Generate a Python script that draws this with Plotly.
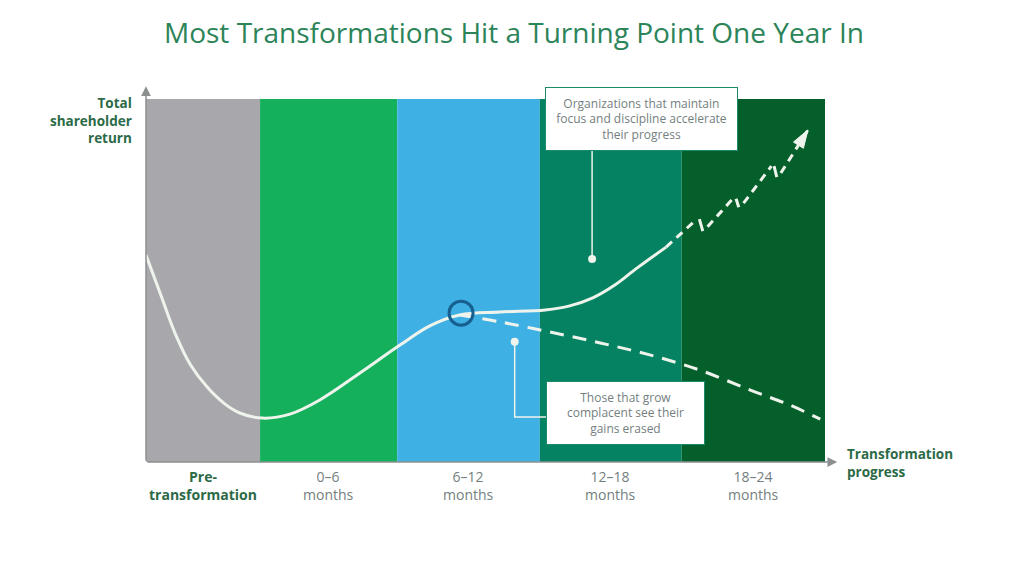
import plotly.graph_objects as go

# ---- data ----
band_edges = [0, 16.8, 37.0, 58.0, 78.9, 100]
band_colors = ["#a8a7ab", "#14b05c", "#3eb0e4", "#058262", "#045f2b"]
tick_top = ["Pre-", "0–6", "6–12", "12–18", "18–24"]
tick_bottom = ["transformation", "months", "months", "months", "months"]

solid_x = [0, 2.06, 4.27, 6.48, 8.98, 11.6, 13.8, 17.1, 21.2, 25.6, 31.5, 37.4, 41.8, 46.2, 52.1, 58.8, 62.4, 65.8, 69.1, 72.3, 76.6]
solid_y = [57.0, 46.6, 35.5, 27.0, 20.7, 16.0, 13.5, 12.1, 13.2, 17.1, 24.5, 32.2, 37.5, 40.5, 41.3, 41.9, 43.0, 45.2, 48.8, 53.4, 59.2]

# accelerating path: dashed runs (None separates runs) and the short "jolts" between them
up_x = [76.6, 81.0, None, 82.7, 86.5, None, 88.0, 92.1, None, 93.5, 97.5]
up_y = [59.2, 66.7, None, 64.8, 72.7, None, 71.3, 81.5, None, 79.6, 91.5]
jolt_x = [81.5, 82.0, None, 86.9, 87.3, None, 92.5, 92.9]
jolt_y = [66.9, 63.6, None, 72.5, 70.2, None, 81.5, 78.5]

down_x = [46.2, 52.1, 59.5, 66.9, 74.2, 81.6, 89.0, 94.8, 99.3]
down_y = [40.5, 38.6, 35.8, 32.8, 29.5, 25.3, 19.8, 15.7, 11.8]

turn_x, turn_y = [46.4], [41.0]

FONT = "Open Sans"
LINE = "#eef4ec"
DKGREEN = "#2c6a47"
GRAY_TXT = "#748080"

fig = go.Figure()

shapes = []
for i, c in enumerate(band_colors):
    shapes.append(dict(type="rect", xref="x", yref="y", x0=band_edges[i], x1=band_edges[i + 1],
                       y0=0, y1=100, fillcolor=c, line=dict(width=0), layer="below"))

# pointer lines
fig.add_trace(go.Scatter(x=[65.7, 65.7], y=[85.7, 55.9], mode="lines",
                         line=dict(color=LINE, width=1.5), hoverinfo="skip"))
fig.add_trace(go.Scatter(x=[65.7], y=[55.9], mode="markers",
                         marker=dict(color=LINE, size=8), hoverinfo="skip"))
fig.add_trace(go.Scatter(x=[54.3, 54.3, 58.9], y=[33.1, 12.4, 12.4], mode="lines",
                         line=dict(color=LINE, width=1.5), hoverinfo="skip"))
fig.add_trace(go.Scatter(x=[54.3], y=[33.1], mode="markers",
                         marker=dict(color=LINE, size=8), hoverinfo="skip"))

fig.add_trace(go.Scatter(x=solid_x, y=solid_y, mode="lines",
                         line=dict(color=LINE, width=3, shape="spline", smoothing=1.0), hoverinfo="skip"))
fig.add_trace(go.Scatter(x=down_x, y=down_y, mode="lines",
                         line=dict(color=LINE, width=3, dash="14px,9px", shape="spline"), hoverinfo="skip"))
fig.add_trace(go.Scatter(x=up_x, y=up_y, mode="lines", connectgaps=False,
                         line=dict(color=LINE, width=3, dash="8px,6px"), hoverinfo="skip"))
fig.add_trace(go.Scatter(x=jolt_x, y=jolt_y, mode="lines", connectgaps=False,
                         line=dict(color=LINE, width=3), hoverinfo="skip"))
fig.add_trace(go.Scatter(x=up_x[-2:], y=up_y[-2:], mode="markers",
                         marker=dict(symbol="arrow", size=[0, 19], angleref="previous", color=LINE,
                                     opacity=1, line=dict(width=1, color=LINE)), hoverinfo="skip"))
fig.add_trace(go.Scatter(x=turn_x, y=turn_y, mode="markers",
                         marker=dict(symbol="circle-open", size=24, color="#175f8f", line=dict(color="#175f8f", width=3)),
                         hoverinfo="skip"))

annotations = []
# axis arrows
annotations.append(dict(x=0, y=103.5, ax=0, ay=0, xref="x", yref="y", axref="x", ayref="y",
                        showarrow=True, arrowhead=2, arrowsize=1.3, arrowwidth=1.5, arrowcolor="#8c9090", text=""))
annotations.append(dict(x=101.8, y=0, ax=0, ay=0, xref="x", yref="y", axref="x", ayref="y",
                        showarrow=True, arrowhead=2, arrowsize=1.3, arrowwidth=1.5, arrowcolor="#8c9090", text=""))

# tick labels
for i in range(5):
    cx = (band_edges[i] + band_edges[i + 1]) / 2
    if i == 0:
        txt = f"<b>{tick_top[i]}<br>{tick_bottom[i]}</b>"
        col = DKGREEN
    else:
        txt = f"{tick_top[i]}<br>{tick_bottom[i]}"
        col = GRAY_TXT
    annotations.append(dict(x=cx, y=0, xref="x", yref="y", yshift=-3, yanchor="top", showarrow=False,
                            text=txt, font=dict(family=FONT, size=14, color=col), align="center"))

# axis titles
annotations.append(dict(x=134, y=576 - 121, xref="paper", yref="paper", showarrow=False,
                        text="<b>Total<br>shareholder<br>return</b>", align="right", xanchor="right", yanchor="middle",
                        font=dict(family=FONT, size=13.5, color=DKGREEN)))
annotations.append(dict(x=845, y=576 - 463, showarrow=False, xref="paper", yref="paper",
                        text="<b>Transformation<br>progress</b>", align="left", xanchor="left", yanchor="middle",
                        font=dict(family=FONT, size=13.5, color=DKGREEN)))

# callout boxes
annotations.append(dict(x=73.0, y=94.5, xref="x", yref="y", showarrow=False,
                        text="Organizations that maintain<br>focus and discipline accelerate<br>their progress",
                        bgcolor="white", bordercolor="#1d8a6a", borderwidth=1, borderpad=4,
                        width=183, height=54, align="center",
                        font=dict(family=FONT, size=12, color=GRAY_TXT)))
annotations.append(dict(x=70.6, y=13.5, xref="x", yref="y", showarrow=False,
                        text="Those that grow<br>complacent see their<br>gains erased",
                        bgcolor="white", bordercolor="#1d8a6a", borderwidth=1, borderpad=4,
                        width=149, height=54, align="center",
                        font=dict(family=FONT, size=12, color=GRAY_TXT)))

# title
annotations.append(dict(x=514, y=576 - 32, xref="paper", yref="paper", showarrow=False,
                        text="Most Transformations Hit a Turning Point One Year In",
                        font=dict(family=FONT, size=28, color="#2c8459"), xanchor="center", yanchor="middle"))

# paper coords in pixels: convert
for a in annotations:
    if a.get("xref") == "paper":
        a["x"] = (a["x"] - 146) / (825 - 146)
        a["y"] = (a["y"] - 114) / (462 - 99)

fig.update_layout(
    width=1024, height=576,
    margin=dict(l=146, r=199, t=99, b=114),
    paper_bgcolor="white", plot_bgcolor="white",
    showlegend=False,
    xaxis=dict(range=[0, 100], visible=False, fixedrange=True),
    yaxis=dict(range=[0, 100], visible=False, fixedrange=True),
    shapes=shapes,
    annotations=annotations,
)
fig.write_html("out.html", config={"displayModeBar": False})
